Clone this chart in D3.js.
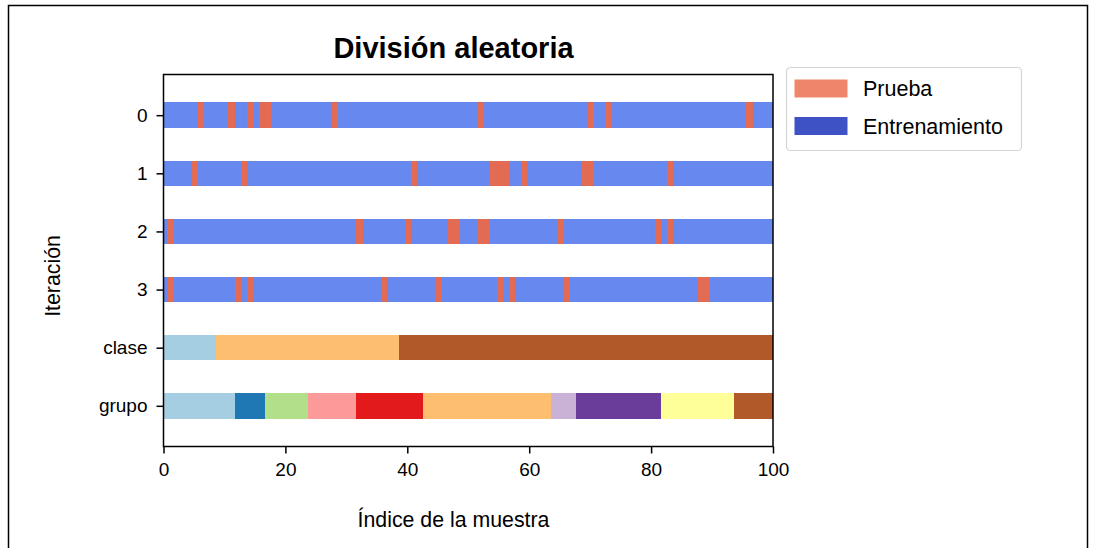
<!DOCTYPE html>
<html>
<head>
<meta charset="utf-8">
<script src="https://cdn.jsdelivr.net/npm/d3@7"></script>
<style>
  html, body { margin: 0; padding: 0; background: #fff; }
  svg { display: block; font-family: "Liberation Sans", Arial, sans-serif; }
</style>
</head>
<body>
<svg id="chart" width="1094" height="548"></svg>
<script>
// Sample layout: 100 samples, 4 random train/test splits
const nSamples = 100;
const iterationLabels = ["0", "1", "2", "3"];
const testIndices = [
  [7, 12, 15, 17, 18, 29, 53, 71, 74, 97],
  [6, 14, 42, 55, 56, 57, 60, 70, 71, 84],
  [2, 33, 41, 48, 49, 53, 54, 66, 82, 84],
  [2, 13, 15, 37, 46, 56, 58, 67, 89, 90]
];
const classSizes = [10, 30, 60];
const groupSizes = [13, 5, 7, 8, 11, 21, 4, 14, 12, 5];
const rowLabels = ["0", "1", "2", "3", "clase", "grupo"];
const xTickValues = [0, 20, 40, 60, 80, 100];
const legendLabels = ["Prueba", "Entrenamiento"];

// expand run lengths into one label per sample
function expand(sizes) {
  const out = [];
  sizes.forEach((n, k) => { for (let j = 0; j < n; j++) out.push(k); });
  return out;
}
const classes = expand(classSizes);
const groups = expand(groupSizes);

const colTrain = "#6788ee", colTest = "#e36a53";
const legendTest = "#ef8669", legendTrain = "#3e51c5";
const paired = d3.schemePaired;
const pairedAt = v => paired[Math.min(11, Math.floor(v * 12))];

const svg = d3.select("#chart");

// outer frame
svg.append("rect").attr("x", 8.5).attr("y", 5.5).attr("width", 1079).attr("height", 560)
  .attr("fill", "none").attr("stroke", "#000").attr("stroke-width", 1.5);

const ax = { left: 163.5, right: 773, top: 74.5, bottom: 446.5 };
const x = d3.scaleLinear().domain([0, 100]).range([ax.left, ax.right]);
const y = d3.scaleLinear().domain([-0.2, 6.2]).range([ax.top, ax.bottom]);

svg.append("clipPath").attr("id", "plotClip").append("rect")
  .attr("x", ax.left).attr("y", ax.top)
  .attr("width", ax.right - ax.left).attr("height", ax.bottom - ax.top);

const plot = svg.append("g").attr("clip-path", "url(#plotClip)");

const half = 1.35;     // marker half-length, in samples
const barH = 25.4;     // marker thickness, px
const idx = d3.range(nSamples);

// one marker per sample, drawn in index order so later ones overlap earlier ones
function drawRow(rowPos, colorOf) {
  plot.append("g").selectAll("rect").data(idx).join("rect")
    .attr("x", i => x(i - half))
    .attr("width", i => x(i + half) - x(i - half))
    .attr("y", y(rowPos) - barH / 2)
    .attr("height", barH)
    .attr("fill", colorOf)
    .attr("shape-rendering", "crispEdges");
}

testIndices.forEach((test, r) => {
  const s = new Set(test);
  drawRow(r + 0.5, i => s.has(i) ? colTest : colTrain);
});
const nCls = d3.max(classes);
drawRow(4.5, i => pairedAt(classes[i] / nCls));
const nGrp = d3.max(groups);
drawRow(5.5, i => pairedAt(groups[i] / nGrp));

// axes
const xAxis = d3.axisBottom(x).tickValues(xTickValues).tickFormat(d3.format("d"))
  .tickSizeInner(7).tickSizeOuter(0).tickPadding(9);
const gx = svg.append("g").attr("transform", `translate(0,${ax.bottom})`).call(xAxis);
const yAxis = d3.axisLeft(y).tickValues(d3.range(rowLabels.length).map(d => d + 0.5))
  .tickFormat((d, i) => rowLabels[i]).tickSizeInner(7).tickSizeOuter(0).tickPadding(9);
const gy = svg.append("g").attr("transform", `translate(${ax.left},0)`).call(yAxis);
[gx, gy].forEach(g => {
  g.select(".domain").remove();
  g.selectAll(".tick line").attr("stroke", "#000").attr("stroke-width", 1.5);
  g.selectAll(".tick text").attr("font-size", 19).attr("fill", "#000")
    .attr("font-family", "Liberation Sans, Arial, sans-serif");
});

// spines
svg.append("rect").attr("x", ax.left).attr("y", ax.top)
  .attr("width", ax.right - ax.left).attr("height", ax.bottom - ax.top)
  .attr("fill", "none").attr("stroke", "#000").attr("stroke-width", 1.5);

// titles
svg.append("text").attr("x", 453.5).attr("y", 58).attr("text-anchor", "middle")
  .attr("font-size", 29).attr("font-weight", "bold").text("División aleatoria");
svg.append("text").attr("x", 453.5).attr("y", 527).attr("text-anchor", "middle")
  .attr("font-size", 21.3).text("Índice de la muestra");
svg.append("text").attr("transform", "translate(60,276) rotate(-90)")
  .attr("text-anchor", "middle").attr("font-size", 21.3).text("Iteración");

// legend
const lg = svg.append("g").attr("transform", "translate(786,67)");
lg.append("rect").attr("x", 0.5).attr("y", 0.5).attr("width", 235).attr("height", 83)
  .attr("rx", 4).attr("fill", "#fff").attr("stroke", "#d5d5d5").attr("stroke-width", 1.2);
[legendTest, legendTrain].forEach((c, k) => {
  lg.append("rect").attr("x", 8.5).attr("y", 12.5 + k * 37.5).attr("width", 53).attr("height", 18)
    .attr("fill", c);
  lg.append("text").attr("x", 77).attr("y", 29 + k * 37.5).attr("font-size", 21.5)
    .text(legendLabels[k]);
});
</script>
</body>
</html>
